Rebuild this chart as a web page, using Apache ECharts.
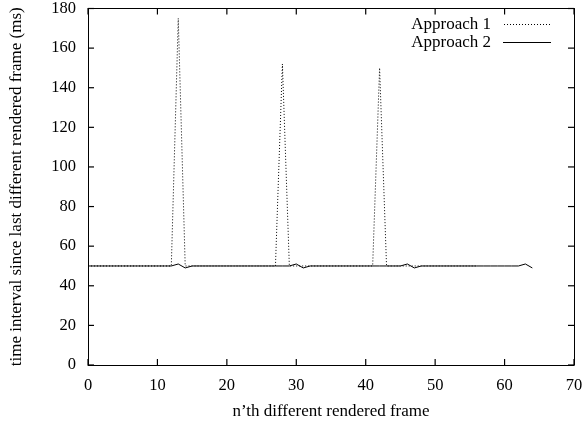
<!DOCTYPE html>
<html><head><meta charset="utf-8">
<script src="https://cdn.jsdelivr.net/npm/echarts@6/dist/echarts.min.js"></script>
<style>html,body{margin:0;padding:0;background:#fff}#c{width:588px;height:425px}</style>
</head><body><div id="c"></div>
<script>
const xTicks = [0,10,20,30,40,50,60,70];
const yTicks = [0,20,40,60,80,100,120,140,160,180];
const a1x = [0,1,2,3,4,5,6,7,8,9,10,11,12,13,14,15,16,17,18,19,20,21,22,23,24,25,26,27,28,29,30,31,32,33,34,35,36,37,38,39,40,41,42,43,44,45,46,47,48,49,50,51,52,53,54,55,56];
const a1y = [50,50,50,50,50,50,50,50,50,50,50,50,50,175,50,50,50,50,50,50,50,50,50,50,50,50,50,50,152,50,50,50,50,50,50,50,50,50,50,50,50,50,150,50,50,50,50,50,50,50,50,50,50,50,50,50,50];
const a2x = [0,1,2,3,4,5,6,7,8,9,10,11,12,13,14,15,16,17,18,19,20,21,22,23,24,25,26,27,28,29,30,31,32,33,34,35,36,37,38,39,40,41,42,43,44,45,46,47,48,49,50,51,52,53,54,55,56,57,58,59,60,61,62,63,64];
const a2y = [50,50,50,50,50,50,50,50,50,50,50,50,50,51,49,50,50,50,50,50,50,50,50,50,50,50,50,50,50,50,51,49,50,50,50,50,50,50,50,50,50,50,50,50,50,50,51,49,50,50,50,50,50,50,50,50,50,50,50,50,50,50,50,51,49];
const seriesNames = ['Approach 1','Approach 2'];
const xName = 'n\u2019th different rendered frame';
const yName = 'time interval since last different rendered frame (ms)';

const font = 'Liberation Serif';
const TICK = 6;
const chart = echarts.init(document.getElementById('c'));
function mkAxis(position, ticks, opts) {
  opts = opts || {};
  const ax = {
    type: 'value', position: position,
    min: ticks[0], max: ticks[ticks.length-1], interval: ticks[1]-ticks[0],
    axisLine: {show: true, onZero: false, lineStyle: {color: '#000', width: 1}},
    axisTick: {show: false},
    splitLine: {show: false},
    axisLabel: opts.labels ? {fontFamily: font, fontSize: 16.5, color: '#000', margin: 12} : {show: false}
  };
  if (opts.name) {
    ax.name = opts.name; ax.nameLocation = 'middle'; ax.nameGap = opts.nameGap;
    ax.nameTextStyle = {fontFamily: font, fontSize: 17, color: '#000'};
  }
  return ax;
}
function tickPath(cx, cy, dx, dy) {
  // thin filled rectangle from the frame inward
  const w = dx !== 0 ? Math.abs(dx) : 1.2;
  const h = dy !== 0 ? Math.abs(dy) : 1.2;
  const x = dx < 0 ? cx + dx : (dx === 0 ? cx - 0.6 : cx);
  const y = dy < 0 ? cy + dy : (dy === 0 ? cy - 0.6 : cy);
  return {type: 'rect', shape: {x: x, y: y, width: w, height: h}, style: {fill: '#000'}, z2: 100};
}
let dotPath = 'path://';
for (let i = 0; i < 48; i += 3) dotPath += 'M' + i + ' 0h1v1h-1z';
const solidPath = 'path://M0 0h48v1h-48z';
chart.setOption({
  animation: false,
  backgroundColor: '#fff',
  grid: {left: 87, right: 14, top: 7, bottom: 58},
  legend: {
    data: [{name: seriesNames[0], icon: dotPath}, {name: seriesNames[1], icon: solidPath}],
    orient: 'vertical', right: 32, top: 11,
    align: 'right', itemWidth: 48, itemHeight: 1, itemGap: 1,
    itemStyle: {color: '#000', borderWidth: 0},
    textStyle: {fontFamily: font, fontSize: 17, color: '#000', padding: [0, 7, 0, 0]}
  },
  xAxis: [
    mkAxis('bottom', xTicks, {labels: true, name: xName, nameGap: 38}),
    mkAxis('top', xTicks, {})
  ],
  yAxis: [
    mkAxis('left', yTicks, {labels: true, name: yName, nameGap: 63}),
    mkAxis('right', yTicks, {})
  ],
  series: [
    {name: seriesNames[0], type: 'line', symbol: 'none', showSymbol: false,
     data: a1x.map((x,i)=>[x,a1y[i]]),
     lineStyle: {color: '#000', width: 1, type: [1,2]}, itemStyle: {color: '#000'}},
    {name: seriesNames[1], type: 'line', symbol: 'none', showSymbol: false,
     data: a2x.map((x,i)=>[x,a2y[i]]),
     lineStyle: {color: '#000', width: 1, type: 'solid'}, itemStyle: {color: '#000'}},
    {name: '_frame', type: 'line', xAxisIndex: 1, yAxisIndex: 1, data: [], silent: true},
    {name: '_xticks', type: 'custom', coordinateSystem: 'cartesian2d', silent: true, z: 10, clip: false,
     encode: {x: 0, y: 1},
     data: xTicks.map(v => [v, yTicks[0]]),
     renderItem: function (params, api) {
       const v = api.value(0);
       const b = api.coord([v, yTicks[0]]);
       const t = api.coord([v, yTicks[yTicks.length-1]]);
       return {type: 'group', children: [
         tickPath(b[0], b[1], 0, -TICK),
         tickPath(t[0], t[1], 0, TICK)
       ]};
     }},
    {name: '_yticks', type: 'custom', coordinateSystem: 'cartesian2d', silent: true, z: 10, clip: false,
     encode: {x: 0, y: 1},
     data: yTicks.map(v => [xTicks[0], v]),
     renderItem: function (params, api) {
       const v = api.value(1);
       const l = api.coord([xTicks[0], v]);
       const r = api.coord([xTicks[xTicks.length-1], v]);
       return {type: 'group', children: [
         tickPath(l[0], l[1], TICK, 0),
         tickPath(r[0], r[1], -TICK, 0)
       ]};
     }}
  ]
});
</script></body></html>
